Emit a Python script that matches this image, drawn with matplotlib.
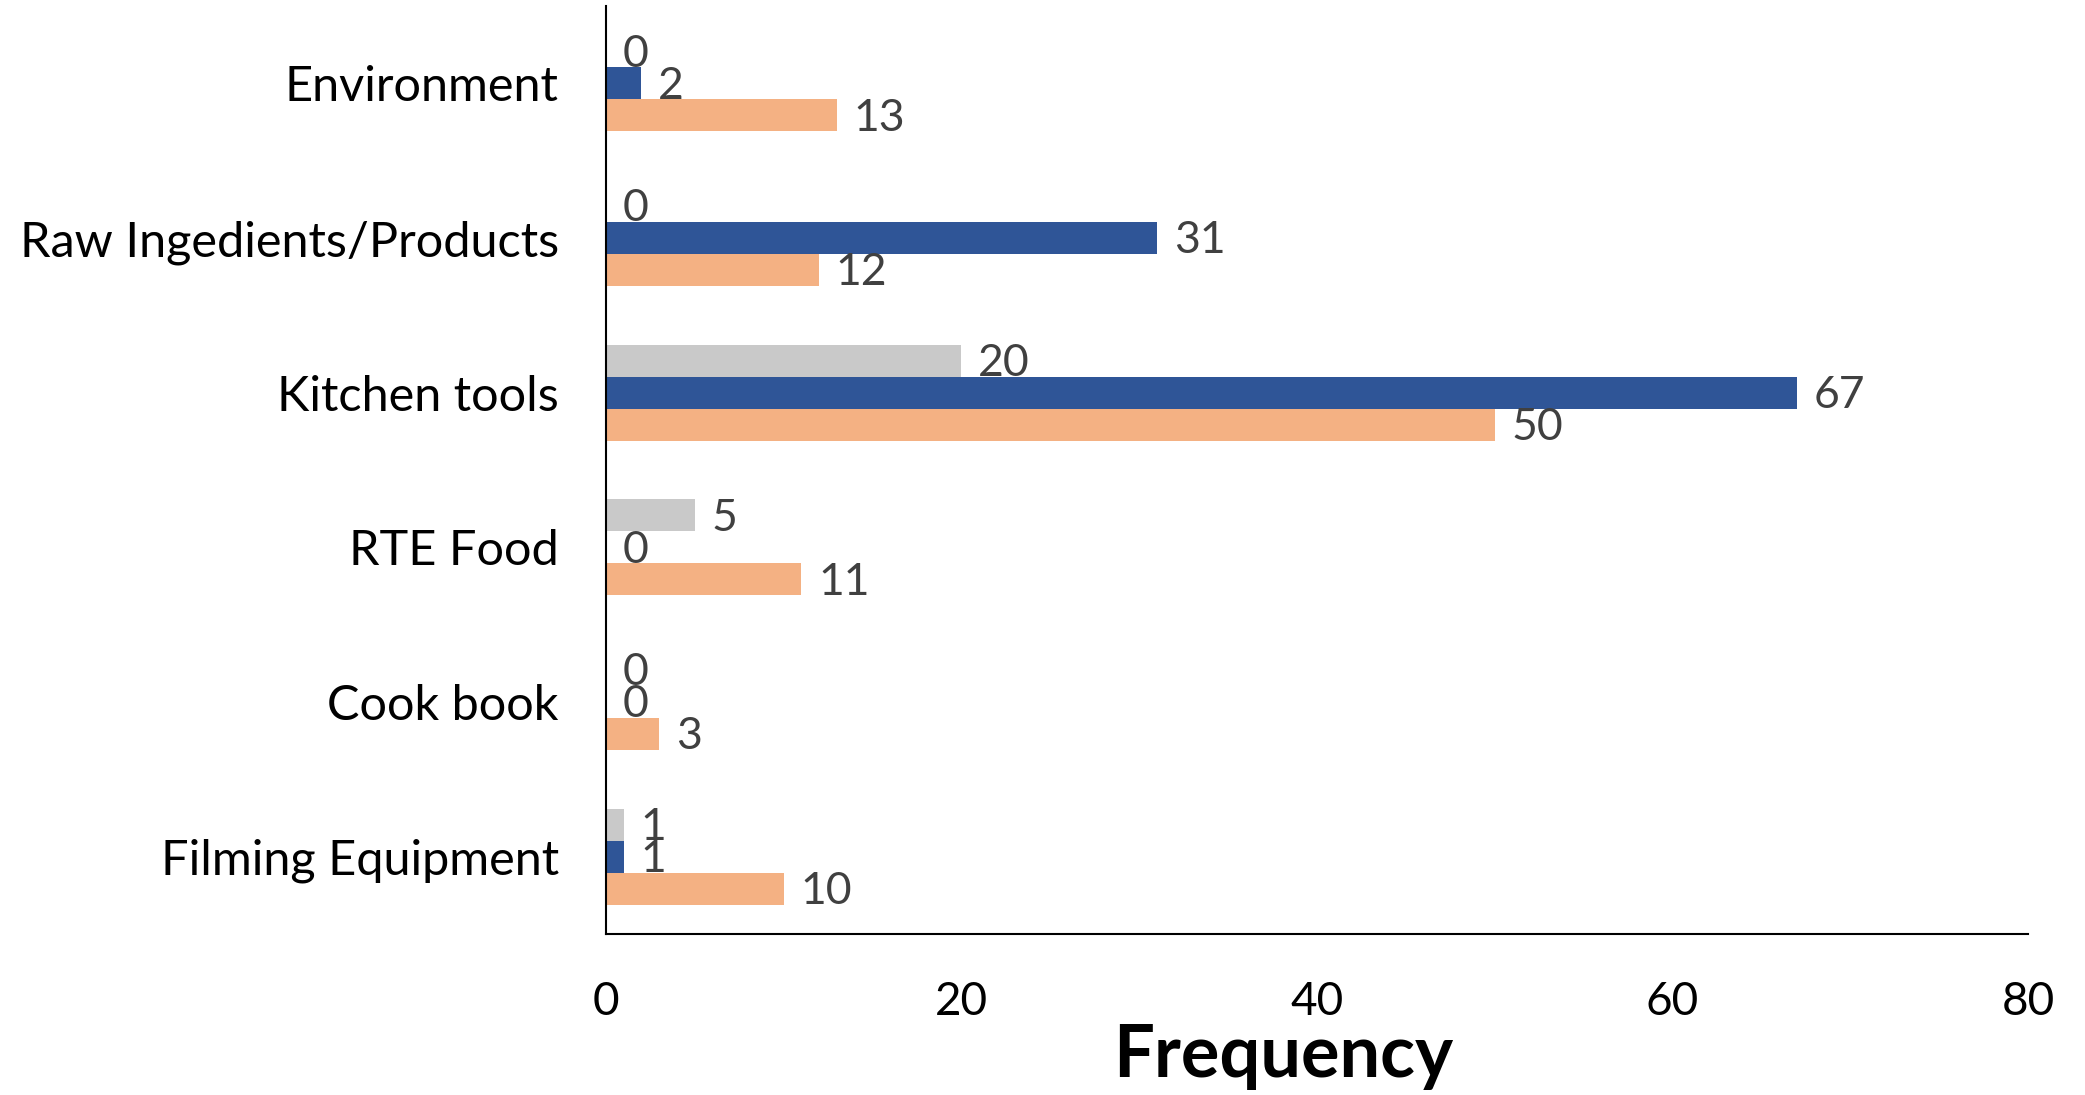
import matplotlib
matplotlib.use('Agg')
import matplotlib.pyplot as plt
import numpy as np

# Kategorier, ovenfra og ned slik de vises
kategorier = ['Environment', 'Raw Ingedients/Products', 'Kitchen tools',
              'RTE Food', 'Cook book', 'Filming Equipment']
# Tre serier: grå (øverst), blå (midten), oransje (nederst)
graa = [0, 0, 20, 5, 0, 1]
blaa = [2, 31, 67, 0, 0, 1]
oransje = [13, 12, 50, 11, 3, 10]
x_ticks = [0, 20, 40, 60, 80]

plt.rcParams['font.family'] = ['Lato', 'DejaVu Sans']

fig = plt.figure(figsize=(20.85, 10.95), dpi=100)
ax = fig.add_axes([0.2906, 0.147, 0.6821, 0.8475])

y = np.arange(len(kategorier))[::-1]
h = 0.207

serier = [(graa, '#C9C9C9', h), (blaa, '#2F5597', 0), (oransje, '#F4B183', -h)]
for verdier, farge, forskyvning in serier:
    bars = ax.barh(y + forskyvning, verdier, height=h, color=farge)
    for b, v in zip(bars, verdier):
        ax.annotate(str(v), (b.get_width(), b.get_y() + b.get_height() / 2),
                    xytext=(12, -2), textcoords='offset points',
                    ha='left', va='center', fontsize=32, color='#404040')

ax.set_xlim(0, 80)
ax.set_ylim(-0.5, len(kategorier) - 0.5)
ax.set_xticks(x_ticks)
ax.set_yticks(y)
ax.set_yticklabels(kategorier)
ax.tick_params(axis='x', length=0, labelsize=33, pad=34)
ax.tick_params(axis='y', length=0, labelsize=35, pad=34)

for s in ['top', 'right']:
    ax.spines[s].set_visible(False)
for s in ['left', 'bottom']:
    ax.spines[s].set_linewidth(1.5)
    ax.spines[s].set_color('black')

ax.set_xlabel('Frequency', fontsize=52, fontweight='bold', va='center')
ax.xaxis.set_label_coords(0.476, -0.132)

fig.savefig('out.png', dpi=100)
plt.close(fig)
